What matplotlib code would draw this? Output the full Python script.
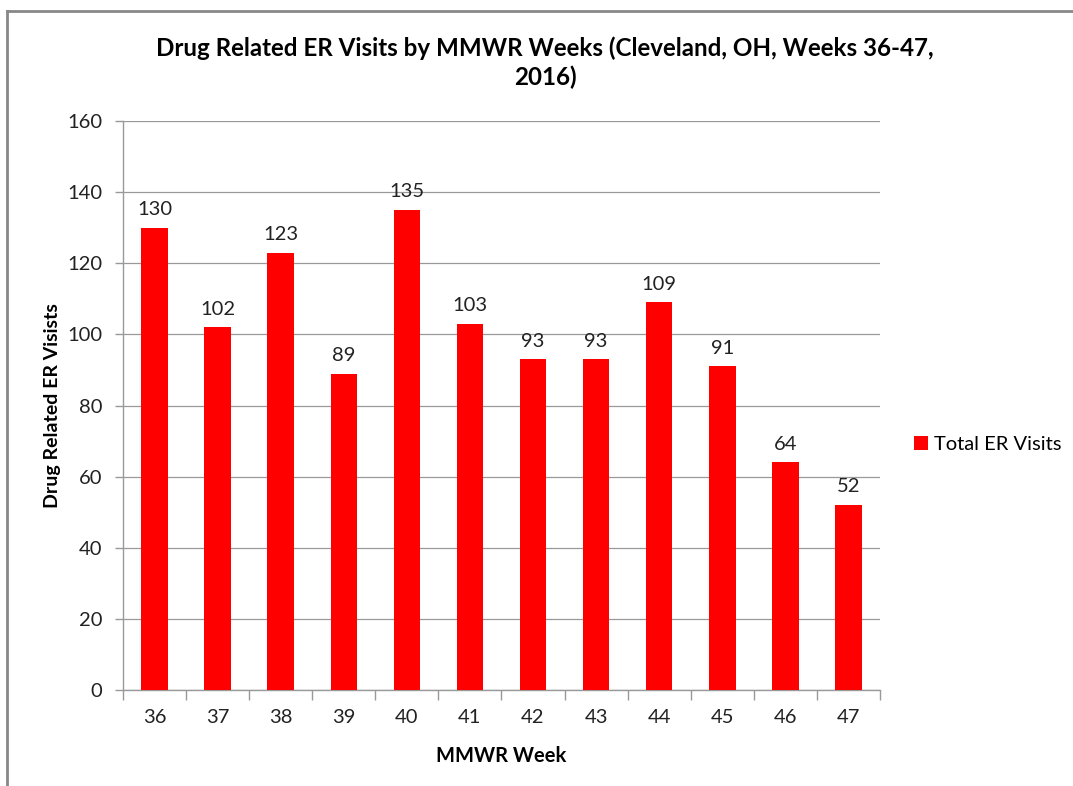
import matplotlib.pyplot as plt
from matplotlib.lines import Line2D
from matplotlib.patches import Patch

weeks = ["36", "37", "38", "39", "40", "41", "42", "43", "44", "45", "46", "47"]
visits = [130, 102, 123, 89, 135, 103, 93, 93, 109, 91, 64, 52]
y_ticks = [0, 20, 40, 60, 80, 100, 120, 140, 160]

plt.rcParams['font.family'] = ['Lato', 'DejaVu Sans']

fig = plt.figure(figsize=(10.73, 7.86), dpi=100)
ax = fig.add_axes([0.1146, 0.1221, 0.7055, 0.7239])

x = list(range(len(weeks)))
ax.bar(x, visits, width=0.42, color='#ff0000', zorder=3, label='Total ER Visits')
for xi, v in zip(x, visits):
    ax.annotate(str(v), (xi, v), xytext=(0, 7), textcoords='offset points',
                ha='center', va='bottom', fontsize=14.5, color='#222222')

ax.set_xlim(-0.5, len(weeks) - 0.5)
ax.set_ylim(0, 160)
ax.set_yticks(y_ticks)
ax.yaxis.grid(True, color='#999999', linewidth=0.9, zorder=0)

# category labels centered, tick marks at boundaries
ax.set_xticks(x)
ax.set_xticklabels(weeks, fontsize=14.5, color='#222222')
ax.tick_params(axis='x', which='major', length=0, pad=14)
ax.set_xticks([i - 0.5 for i in range(len(weeks) + 1)], minor=True)
ax.tick_params(axis='x', which='minor', length=7, color='#999999', width=1)
ax.tick_params(axis='y', length=6, color='#999999', width=1, labelsize=14.5,
               labelcolor='#222222', pad=9)

for s in ['top', 'right']:
    ax.spines[s].set_visible(False)
for s in ['left', 'bottom']:
    ax.spines[s].set_color('#999999')
    ax.spines[s].set_linewidth(1)

ax.set_xlabel('MMWR Week', fontsize=14.5, fontweight='bold', labelpad=14)
ax.set_ylabel('Drug Related ER Visists', fontsize=14, fontweight='bold', labelpad=4)

fig.text(0.508, 0.954, 'Drug Related ER Visits by MMWR Weeks (Cleveland, OH, Weeks 36-47,\n2016)',
         ha='center', va='top', fontsize=17.4, fontweight='bold', linespacing=1.3)

handle = Patch(facecolor='#ff0000')
fig.legend([handle], ['Total ER Visits'], loc='center left', bbox_to_anchor=(0.835, 0.434),
           frameon=False, fontsize=14.5, handlelength=0.7, handleheight=0.7, handletextpad=0.3)

# partial chart border (left and top edges visible)
fig.add_artist(Line2D([0.0065, 0.0065], [0, 0.986], transform=fig.transFigure, color='#888888', linewidth=2))
fig.add_artist(Line2D([0.0065, 1.0], [0.986, 0.986], transform=fig.transFigure, color='#888888', linewidth=2))

fig.savefig('out.png', dpi=100)
